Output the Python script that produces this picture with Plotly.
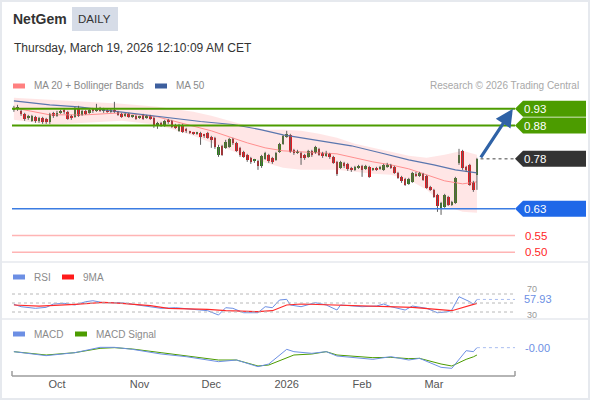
"""NetGem daily chart: candles + MA20/Bollinger + MA50, RSI and MACD panels."""

import pandas as pd
import plotly.graph_objects as go

W, H = 590, 400
FONT = "Liberation Sans, Arial, sans-serif"

SYMBOL = "NetGem"
PERIOD = "DAILY"
STAMP = "Thursday, March 19, 2026 12:10:09 AM CET"
CREDIT = "Research © 2026 Trading Central"

# trading days (Euronext, holidays removed)
HOLIDAYS = ["2025-12-25", "2025-12-26", "2026-01-01"]
DATES = [d for d in pd.bdate_range("2025-09-15", "2026-03-18") if d.strftime("%Y-%m-%d") not in HOLIDAYS]

OPEN = [
    .927, .930, .924, .915, .903, .894, .906, .894, .903, .900,
    .891, .918, .909, .918, .924, .921, .909, .906, .930, .912,
    .924, .918, .927, .924, .933, .924, .927, .921, .927, .921,
    .915, .909, .915, .906, .909, .903, .912, .903, .909, .903,
    .882, .885, .879, .894, .894, .882, .864, .882, .870, .861,
    .858, .855, .858, .852, .858, .846, .843, .792, .819, .813,
    .816, .840, .828, .813, .801, .792, .783, .774, .774, .759,
    .780, .792, .783, .777, .801, .825, .846, .852, .807, .798,
    .798, .792, .786, .804, .798, .810, .798, .789, .795, .786,
    .771, .753, .768, .765, .753, .747, .753, .759, .750, .756,
    .747, .753, .750, .747, .756, .762, .756, .738, .726, .720,
    .705, .711, .735, .729, .735, .729, .696, .687, .672, .633,
    .636, .666, .642, .648, .768, .804, .756, .762, .711, .732,
]
HIGH = [
    .939, .942, .927, .918, .912, .912, .909, .906, .906, .903,
    .918, .921, .924, .927, .930, .924, .912, .936, .939, .927,
    .927, .930, .933, .945, .936, .933, .930, .930, .951, .924,
    .918, .918, .918, .912, .912, .909, .915, .912, .912, .906,
    .891, .891, .897, .900, .897, .885, .885, .885, .873, .864,
    .861, .861, .861, .855, .861, .849, .846, .822, .822, .837,
    .843, .843, .831, .816, .804, .795, .786, .780, .777, .792,
    .801, .795, .786, .801, .828, .852, .864, .855, .810, .807,
    .801, .795, .807, .807, .819, .813, .801, .804, .798, .789,
    .774, .774, .771, .768, .756, .759, .762, .762, .762, .759,
    .753, .756, .759, .765, .768, .765, .759, .741, .729, .723,
    .723, .741, .741, .741, .738, .732, .699, .690, .675, .651,
    .675, .669, .654, .726, .810, .807, .759, .765, .714, .783,
]
LOW = [
    .921, .924, .909, .894, .897, .891, .888, .888, .885, .885,
    .885, .903, .906, .915, .915, .897, .897, .903, .906, .909,
    .912, .915, .918, .921, .921, .918, .918, .918, .918, .909,
    .903, .906, .903, .903, .897, .900, .897, .900, .897, .873,
    .870, .876, .876, .885, .873, .870, .861, .858, .858, .855,
    .852, .852, .822, .843, .840, .813, .810, .786, .789, .810,
    .813, .822, .801, .786, .783, .771, .765, .768, .747, .753,
    .777, .768, .765, .774, .798, .822, .843, .798, .792, .795,
    .762, .777, .783, .786, .795, .789, .783, .786, .780, .765,
    .729, .750, .753, .744, .741, .744, .750, .726, .747, .723,
    .744, .744, .747, .744, .753, .750, .735, .720, .708, .699,
    .702, .708, .726, .726, .714, .690, .684, .663, .621, .612,
    .633, .639, .639, .645, .762, .747, .741, .699, .681, .687,
]
CLOSE = [
    .930, .933, .915, .900, .909, .909, .894, .903, .891, .891,
    .915, .909, .918, .924, .921, .900, .903, .930, .909, .924,
    .915, .927, .924, .933, .924, .927, .921, .927, .921, .912,
    .906, .915, .906, .909, .900, .906, .900, .909, .900, .879,
    .888, .882, .894, .891, .876, .873, .882, .861, .864, .858,
    .855, .858, .846, .849, .843, .837, .816, .816, .792, .831,
    .840, .828, .804, .792, .786, .777, .771, .777, .759, .789,
    .798, .774, .771, .798, .825, .849, .855, .801, .798, .804,
    .783, .783, .804, .792, .816, .792, .789, .798, .786, .768,
    .735, .771, .759, .750, .747, .756, .759, .747, .759, .726,
    .753, .747, .756, .762, .762, .753, .738, .723, .714, .702,
    .720, .738, .729, .738, .717, .693, .687, .666, .639, .648,
    .672, .642, .651, .723, .792, .753, .747, .702, .687, .780,
]

# MA20 + Bollinger bands, read at these bar positions
BAND_IDX = [0, 10, 20, 30, 40, 50, 55, 60, 65, 70, 75, 80, 85, 90, 95, 100, 105, 110, 115, 120, 125, 129]
MA20 = [.933, .912, .912, .918, .906, .879, .864, .846, .828, .813, .804, .801, .798, .795, .783, .771, .762, .750, .732, .714, .705, .711]
BB_UP = [.963, .957, .951, .945, .936, .921, .909, .894, .879, .867, .867, .864, .855, .843, .825, .813, .801, .789, .783, .792, .804, .792]
BB_LO = [.897, .882, .888, .894, .882, .849, .828, .807, .786, .768, .753, .747, .747, .747, .741, .735, .732, .717, .687, .639, .621, .618]

MA50_IDX = [0, 10, 18, 24, 31, 38, 45, 52, 61, 69, 75, 80, 87, 94, 102, 110, 117, 123, 129]
MA50 = [.954, .942, .936, .928, .918, .909, .900, .892, .883, .867, .852, .843, .831, .819, .798, .777, .762, .747, .738]

RSI_IDX = [0, 2, 6, 9, 11, 14, 17, 20, 22, 25, 30, 34, 38, 41, 45, 50, 54, 57, 59, 61, 64, 68, 70,
           72, 74, 76, 77, 80, 84, 87, 90, 91, 97, 101, 103, 105, 109, 111, 115, 118, 121, 122, 124, 127, 128, 129]
RSI = [47.1, 41.8, 38.2, 40.4, 47.8, 49.3, 45.6, 52.9, 55.1, 50.7, 50.7, 45.6, 40.4, 38.2, 39.6, 36.0,
       32.9, 23.3, 39.6, 38.2, 28.4, 28.4, 41.8, 39.6, 56.7, 58.2, 45.6, 41.8, 50.7, 45.6, 34.4, 45.6,
       41.8, 43.3, 47.8, 41.8, 34.4, 43.3, 38.2, 28.4, 30.7, 34.4, 64.0, 52.9, 47.1, 57.93]
RSI_MA_IDX = [0, 7, 17, 25, 30, 38, 43, 54, 59, 68, 72, 76, 80, 90, 101, 111, 122, 126, 129]
RSI_MA = [45.6, 43.3, 47.1, 51.5, 49.3, 44.0, 38.2, 36.0, 32.9, 30.7, 32.9, 45.6, 47.8, 45.6, 43.3, 40.4, 32.9, 41.8, 49.3]
RSI_GUIDES = [70, 50, 30]
RSI_TICKS = [70, 30]

MACD_IDX = [0, 9, 17, 24, 28, 33, 41, 48, 57, 62, 68, 71, 76, 78, 83, 87, 90, 100, 105, 110, 113, 119, 122, 126, 128, 129]
MACD = [-.0068, -.0116, -.0080, -.0016, -.0016, -.0040, -.0096, -.0128, -.0188, -.0168, -.0248, -.0216, -.0040,
        -.0068, -.0088, -.0068, -.0120, -.0160, -.0128, -.0168, -.0148, -.0256, -.0268, -.0056, -.0068, -.0020]
SIGNAL = [-.0068, -.0108, -.0080, -.0028, -.0020, -.0036, -.0080, -.0116, -.0168, -.0168, -.0240, -.0228, -.0148,
          -.0108, -.0096, -.0068, -.0108, -.0140, -.0136, -.0152, -.0148, -.0216, -.0240, -.0160, -.0130, -.0108]

LEVELS = [0.93, 0.88, 0.78, 0.63, 0.55, 0.50]
LEVEL_KIND = ["res", "res", "pivot", "sup", "weak", "weak"]

GREEN = "#4c9c00"
UP = "#2e7f1b"
DOWN = "#df1219"
WICK = "#5e5e5e"
BLUE_TAG = "#1f68e8"
STEEL = "#2f62a6"
RSI_BLUE = "#6c8fe4"
GRID = "#e6e9ee"
INK = "#333333"
MUTED = "#8a8a8a"

X_RANGE = [-0.53, 139.6]


def px(x):
    return x / W


def py(y):
    return 1 - y / H


# month ticks at first trading day of each month
tick_idx, tick_txt = [], []
for i in range(1, len(DATES)):
    if DATES[i].month != DATES[i - 1].month:
        tick_idx.append(i)
        tick_txt.append(str(DATES[i].year) if DATES[i].month == 1 else DATES[i].strftime("%b"))

bars = list(range(len(CLOSE)))
last = len(CLOSE) - 1

fig = go.Figure()

# --- price panel
fig.add_trace(go.Scatter(x=BAND_IDX, y=BB_UP, mode="lines", line=dict(width=0), hoverinfo="skip"))
fig.add_trace(go.Scatter(x=BAND_IDX, y=BB_LO, mode="lines", line=dict(width=0), fill="tonexty",
                         fillcolor="rgba(255,80,80,0.14)", hoverinfo="skip"))
fig.add_trace(go.Scatter(x=BAND_IDX, y=MA20, mode="lines", line=dict(color="#ff8f8f", width=1)))
fig.add_trace(go.Scatter(x=MA50_IDX, y=MA50, mode="lines", line=dict(color="#5a76ae", width=1.1)))

# candles: wicks as one broken line, bodies as floating bars
wx, wy = [], []
for i, (hi, lo) in enumerate(zip(HIGH, LOW)):
    wx += [i, i, None]
    wy += [lo, hi, None]
fig.add_trace(go.Scatter(x=wx, y=wy, mode="lines", line=dict(color=WICK, width=1), hoverinfo="skip"))
fig.add_trace(go.Bar(
    x=bars,
    base=[min(o, c) for o, c in zip(OPEN, CLOSE)],
    y=[max(abs(c - o), 0.0018) for o, c in zip(OPEN, CLOSE)],
    width=0.72,
    marker=dict(color=[UP if c >= o else DOWN for o, c in zip(OPEN, CLOSE)], line=dict(width=0)),
    customdata=list(zip(OPEN, HIGH, LOW, CLOSE)),
    hovertemplate="O %{customdata[0]}<br>H %{customdata[1]}<br>L %{customdata[2]}<br>C %{customdata[3]}<extra></extra>",
))

# --- RSI panel
fig.add_trace(go.Scatter(x=RSI_IDX, y=RSI, mode="lines", line=dict(color=RSI_BLUE, width=1), xaxis="x2", yaxis="y2"))
fig.add_trace(go.Scatter(x=RSI_MA_IDX, y=RSI_MA, mode="lines", line=dict(color="#ff2a2a", width=1.2), xaxis="x2", yaxis="y2"))

# --- MACD panel
fig.add_trace(go.Scatter(x=MACD_IDX, y=SIGNAL, mode="lines", line=dict(color=GREEN, width=1), xaxis="x3", yaxis="y3"))
fig.add_trace(go.Scatter(x=MACD_IDX, y=MACD, mode="lines", line=dict(color=RSI_BLUE, width=1), xaxis="x3", yaxis="y3"))

shapes = []
annos = []


def text(x, y, s, size=10, color=MUTED, anchor="left", bold=False, **kw):
    annos.append(dict(x=px(x), y=py(y), xref="paper", yref="paper", text=f"<b>{s}</b>" if bold else s,
                      showarrow=False, xanchor=anchor, yanchor="middle",
                      font=dict(size=size, color=color, family=FONT), **kw))


def swatch(x, y, color):
    shapes.append(dict(type="rect", xref="paper", yref="paper", x0=px(x), x1=px(x + 12),
                       y0=py(y + 2.5), y1=py(y - 2.5), fillcolor=color, line=dict(width=0)))


# frame + panel separators
shapes.append(dict(type="rect", xref="paper", yref="paper", x0=px(1), x1=px(589), y0=py(399), y1=py(1),
                   line=dict(color=GRID, width=2)))
for ysep in (262, 319):
    shapes.append(dict(type="line", xref="paper", yref="paper", x0=px(1), x1=px(589), y0=py(ysep), y1=py(ysep),
                       line=dict(color=GRID, width=1.5)))

# header
text(11, 19, SYMBOL, size=14, color=INK, bold=True)
shapes.append(dict(type="rect", xref="paper", yref="paper", x0=px(72), x1=px(118), y0=py(31), y1=py(7),
                   fillcolor="#d6dce7", line=dict(width=0), layer="below"))
text(95, 19, PERIOD, size=11.5, color=INK, anchor="center")
text(12, 48, STAMP, size=12, color=INK)

# legends
swatch(13, 86, "#ff8080")
text(32, 86, "MA 20 + Bollinger Bands")
swatch(155, 86, "#3d5f9e")
text(174, 86, "MA 50")
text(581, 86, CREDIT, color="#a8a8a8", anchor="right")
swatch(13, 277, RSI_BLUE)
text(32, 277, "RSI")
swatch(62, 277, "#ff1a1a")
text(81, 277, "9MA")
swatch(13, 334, RSI_BLUE)
text(32, 334, "MACD")
swatch(75, 334, GREEN)
text(94, 334, "MACD Signal")

# key levels
for lvl, kind in zip(LEVELS, LEVEL_KIND):
    if kind == "pivot":
        shapes.append(dict(type="line", xref="x", yref="y", x0=last + 1, x1=X_RANGE[1], y0=lvl, y1=lvl,
                           line=dict(color="#444", width=1, dash="dot")))
    else:
        color = {"res": GREEN, "sup": "#3b7ce2", "weak": "#ffb4b4"}[kind]
        width = {"res": 2, "sup": 1.5, "weak": 1.5}[kind]
        shapes.append(dict(type="line", xref="paper", yref="y", x0=px(12), x1=px(515), y0=lvl, y1=lvl,
                           line=dict(color=color, width=width)))
    label = f"{lvl:.2f}"
    if kind == "weak":
        annos.append(dict(x=px(523), y=lvl, xref="paper", yref="y", text=label, showarrow=False,
                          xanchor="left", font=dict(size=11.5, color="#ff1f1f", family=FONT)))
        continue
    tag = {"res": GREEN, "pivot": "#333333", "sup": BLUE_TAG}[kind]
    shapes.append(dict(type="path", xref="paper", yref="y", xsizemode="pixel", ysizemode="pixel",
                       xanchor=px(515), yanchor=lvl, path="M0,0 L8,8 L71,8 L71,-8 L8,-8 Z",
                       fillcolor=tag, line=dict(width=0)))
    annos.append(dict(x=px(522), y=lvl, xref="paper", yref="y", text=label, showarrow=False,
                      xanchor="left", font=dict(size=11.5, color="white", family=FONT)))

# forecast arrow from last close to first target
annos.append(dict(x=last + 10, y=LEVELS[0], ax=last + 0.8, ay=CLOSE[-1], xref="x", yref="y", axref="x", ayref="y",
                  text="", showarrow=True, arrowhead=2, arrowsize=1.1, arrowwidth=3.2, arrowcolor=STEEL, standoff=0))

# RSI guides and labels
for g in RSI_GUIDES:
    shapes.append(dict(type="line", xref="paper", yref="y2", x0=px(12), x1=px(515), y0=g, y1=g,
                       line=dict(color="#b8b8b8", width=1, dash="dot")))
for t, ty in zip(RSI_TICKS, (289, 315)):
    text(525, ty, str(t), size=9, color="#999")
shapes.append(dict(type="line", xref="x2", yref="y2", x0=RSI_IDX[-1], x1=X_RANGE[1], y0=RSI[-1], y1=RSI[-1],
                   line=dict(color="#a9bdf0", width=1, dash="dot")))
annos.append(dict(x=px(523), y=RSI[-1], xref="paper", yref="y2", text=f"{RSI[-1]:.2f}", showarrow=False,
                  xanchor="left", borderpad=0, font=dict(size=11, color=RSI_BLUE, family=FONT)))

# MACD last value
shapes.append(dict(type="line", xref="x3", yref="y3", x0=MACD_IDX[-1], x1=X_RANGE[1], y0=MACD[-1], y1=MACD[-1],
                   line=dict(color="#a9bdf0", width=1, dash="dot")))
annos.append(dict(x=px(523), y=MACD[-1], xref="paper", yref="y3", text=f"{MACD[-1]:.2f}", showarrow=False,
                  xanchor="left", font=dict(size=11, color=RSI_BLUE, family=FONT)))

# time axis bracket
for seg in [((12, 376), (515, 376)), ((12, 371), (12, 376)), ((515, 371), (515, 376))]:
    (x0, y0), (x1, y1) = seg
    shapes.append(dict(type="line", xref="paper", yref="paper", x0=px(x0), x1=px(x1), y0=py(y0), y1=py(y1),
                       line=dict(color="#9c9c9c", width=1.5)))

xdom = [px(12), px(515)]
fig.update_layout(
    width=W, height=H, margin=dict(l=0, r=0, t=0, b=0),
    paper_bgcolor="white", plot_bgcolor="white", showlegend=False, bargap=0,
    font=dict(family=FONT, size=11, color="#555"),
    xaxis=dict(domain=xdom, range=X_RANGE, visible=False, fixedrange=True),
    yaxis=dict(domain=[py(262), py(95)], range=[0.4706, 0.9715], visible=False),
    xaxis2=dict(domain=xdom, range=X_RANGE, visible=False, anchor="y2"),
    yaxis2=dict(domain=[py(318), py(286)], range=[16.7, 87.8], visible=False, anchor="x2"),
    xaxis3=dict(domain=xdom, range=X_RANGE, anchor="y3", tickmode="array", tickvals=tick_idx, ticktext=tick_txt,
                showgrid=False, zeroline=False, showline=False, ticks="",
                tickfont=dict(size=11, color="#555", family=FONT)),
    yaxis3=dict(domain=[py(376), py(340)], range=[-0.036, 0.0072], visible=False, anchor="x3"),
    shapes=shapes, annotations=annos,
)

fig.write_html("out.html", config={"displayModeBar": False},
               post_script="document.body.style.margin='0';")
